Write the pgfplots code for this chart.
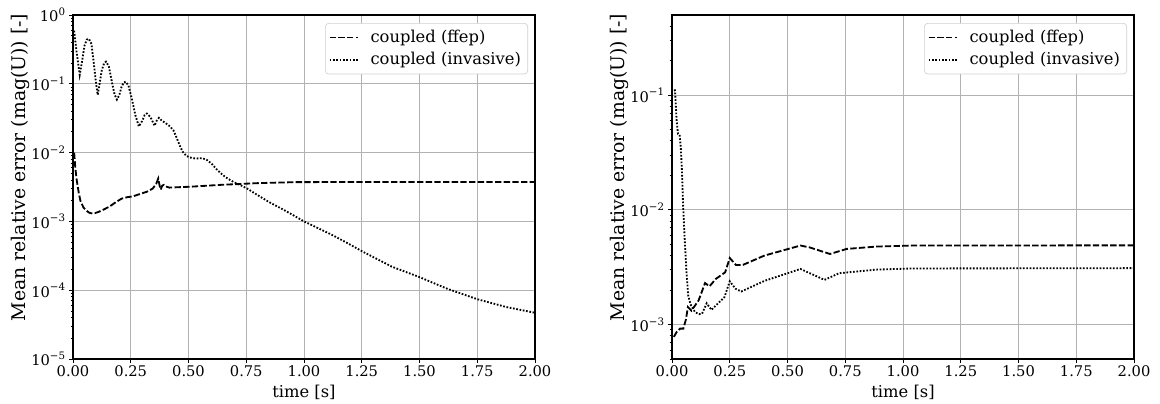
\documentclass[border=0pt]{standalone}
\usepackage{fontspec}
\setmainfont{DejaVu Serif}
\usepackage{pgfplots}
\pgfplotsset{compat=1.18}

\pgfplotsset{
  errax/.style={
    scale only axis, width=277.2pt, height=206.4pt,
    xmin=0, xmax=2,
    xtick={0,0.25,0.5,0.75,1,1.25,1.5,1.75,2},
    xticklabels={0.00,0.25,0.50,0.75,1.00,1.25,1.50,1.75,2.00},
    xtick pos=bottom, ytick pos=left, tick align=outside,
    major tick length=2.4pt, minor tick length=1.4pt,
    every tick/.style={black, line width=0.5pt},
    grid=major, major grid style={black!30, line width=0.5pt},
    axis line style={line width=1pt},
    ticklabel style={font=\fontsize{8.8}{10}\selectfont},
    xticklabel shift=-2pt, yticklabel shift=-1.7pt,
    xlabel={time [s]},
    ylabel={Mean relative error (mag(U)) [-]},
    xlabel style={at={(axis description cs:0.5,-0.097)}, anchor=center,
      font=\fontsize{9.8}{11}\selectfont},
    ylabel style={at={(axis description cs:-0.1147,0.557)}, anchor=center,
      font=\fontsize{11.3}{13}\selectfont},
    legend style={at={(1,1)}, anchor=north east, xshift=-4.2pt, yshift=-4.8pt,
      draw=black!18, rounded corners=2pt,
      font=\fontsize{9.8}{11}\selectfont, inner xsep=2pt, inner ysep=2pt,
      row sep=0.5pt, /tikz/every odd column/.append style={column sep=5pt}},
    legend cell align=left,
    legend image code/.code={\draw[##1, line width=1.1pt] (0pt,0pt) -- (17pt,0pt);},
  },
  ffep/.style={black, line width=1.1pt, dash pattern=on 3.8pt off 1.4pt},
  inva/.style={black, line width=1.1pt, dash pattern=on 1pt off 1pt},
}

\begin{document}
\begin{tikzpicture}
\path[use as bounding box] (0,0) rectangle (696pt,241.8pt);

% left: full run
\begin{axis}[ymode=log, errax, at={(43.8pt,26.4pt)}, anchor=south west,
  ymin=1e-5, ymax=1,
  ytick={1e-5,1e-4,1e-3,1e-2,1e-1,1},
  yticklabels={10\textsuperscript{−5},10\textsuperscript{−4},10\textsuperscript{−3},10\textsuperscript{−2},10\textsuperscript{−1},10\textsuperscript{0}},
  minor ytick={2e-5,3e-5,4e-5,5e-5,6e-5,7e-5,8e-5,9e-5,
    2e-4,3e-4,4e-4,5e-4,6e-4,7e-4,8e-4,9e-4,
    2e-3,3e-3,4e-3,5e-3,6e-3,7e-3,8e-3,9e-3,
    2e-2,3e-2,4e-2,5e-2,6e-2,7e-2,8e-2,9e-2,
    0.2,0.3,0.4,0.5,0.6,0.7,0.8,0.9},
]
\addplot[ffep] coordinates {
  (0.005,0.0100)(0.01,0.0060)(0.016,0.0040)(0.025,0.0026)(0.032,0.0020)
  (0.045,0.0016)(0.056,0.00145)(0.07,0.00134)(0.08,0.00131)(0.095,0.00132)
  (0.112,0.00138)(0.135,0.0015)(0.16,0.00166)(0.185,0.0019)(0.21,0.00214)
  (0.235,0.00225)(0.257,0.0023)(0.29,0.0025)(0.32,0.0027)(0.345,0.0030)
  (0.36,0.0035)(0.369,0.0042)(0.375,0.0033)(0.38,0.0029)(0.386,0.0033)
  (0.393,0.0034)(0.405,0.0032)(0.417,0.0031)(0.513,0.0032)(0.64,0.0034)
  (0.8,0.0036)(0.96,0.00372)(1.28,0.00375)(2.0,0.00375)};
\addlegendentry{coupled (ffep)}
\addplot[inva] coordinates {
  (0.005,0.59)(0.015,0.30)(0.029,0.135)(0.04,0.22)(0.05,0.36)(0.06,0.44)
  (0.069,0.45)(0.08,0.38)(0.09,0.20)(0.1,0.10)(0.107,0.069)(0.115,0.10)
  (0.125,0.16)(0.135,0.20)(0.143,0.21)(0.155,0.18)(0.17,0.10)(0.18,0.07)
  (0.19,0.059)(0.2,0.068)(0.21,0.09)(0.22,0.105)(0.228,0.107)(0.24,0.095)
  (0.255,0.06)(0.27,0.035)(0.285,0.024)(0.3,0.029)(0.31,0.035)(0.32,0.037)
  (0.335,0.033)(0.353,0.0246)(0.362,0.029)(0.372,0.032)(0.385,0.029)
  (0.4,0.027)(0.42,0.024)(0.435,0.021)(0.45,0.016)(0.465,0.012)(0.476,0.0102)
  (0.49,0.0090)(0.505,0.0085)(0.53,0.0082)(0.56,0.0083)(0.58,0.0078)
  (0.6,0.0069)(0.62,0.0058)(0.64,0.0050)(0.66,0.0044)(0.68,0.0040)
  (0.705,0.0036)(0.73,0.0033)(0.754,0.0030)(0.8,0.0024)(0.85,0.0019)
  (0.9,0.00155)(0.95,0.00125)(1.0,0.001)(1.06,8.0e-4)(1.12,6.4e-4)
  (1.19,4.8e-4)(1.25,3.7e-4)(1.38,2.2e-4)(1.5,1.55e-4)(1.62,1.05e-4)
  (1.75,7.4e-5)(1.875,5.7e-5)(2.0,4.7e-5)};
\addlegendentry{coupled (invasive)}
\end{axis}

% right
\begin{axis}[ymode=log, errax, at={(403.2pt,26.4pt)}, anchor=south west,
  ymin=5e-4, ymax=0.5,
  ytick={1e-3,1e-2,1e-1},
  yticklabels={10\textsuperscript{−3},10\textsuperscript{−2},10\textsuperscript{−1}},
  minor ytick={5e-4,6e-4,7e-4,8e-4,9e-4,
    2e-3,3e-3,4e-3,5e-3,6e-3,7e-3,8e-3,9e-3,
    2e-2,3e-2,4e-2,5e-2,6e-2,7e-2,8e-2,9e-2,
    0.2,0.3,0.4},
]
\addplot[ffep] coordinates {
  (0.008,7.8e-4)(0.02,8.6e-4)(0.035,9.2e-4)(0.049,9.2e-4)(0.06,1.1e-3)
  (0.069,1.42e-3)(0.084,1.32e-3)(0.115,1.62e-3)(0.13,1.95e-3)(0.143,2.3e-3)
  (0.162,2.15e-3)(0.19,2.5e-3)(0.23,2.85e-3)(0.25,3.8e-3)(0.277,3.3e-3)
  (0.307,3.31e-3)(0.4,3.99e-3)(0.556,4.88e-3)(0.596,4.7e-3)(0.684,4.12e-3)
  (0.756,4.56e-3)(0.884,4.78e-3)(1.04,4.88e-3)(2.0,4.9e-3)};
\addlegendentry{coupled (ffep)}
\addplot[inva] coordinates {
  (0.008,0.11)(0.013,0.11)(0.02,0.06)(0.026,0.046)(0.033,0.045)(0.038,0.035)
  (0.043,0.022)(0.048,0.011)(0.055,0.0055)(0.063,0.0028)(0.07,0.0018)
  (0.08,0.0015)(0.09,0.00138)(0.1,0.00128)(0.117,0.00123)(0.13,0.00124)
  (0.15,0.00153)(0.171,0.00134)(0.195,0.0015)(0.227,0.00173)(0.25,0.00238)
  (0.275,0.00205)(0.3,0.00194)(0.4,0.0024)(0.556,0.00305)(0.66,0.00245)
  (0.724,0.0028)(0.884,0.00301)(1.04,0.00308)(2.0,0.0031)};
\addlegendentry{coupled (invasive)}
\end{axis}
\end{tikzpicture}
\end{document}
